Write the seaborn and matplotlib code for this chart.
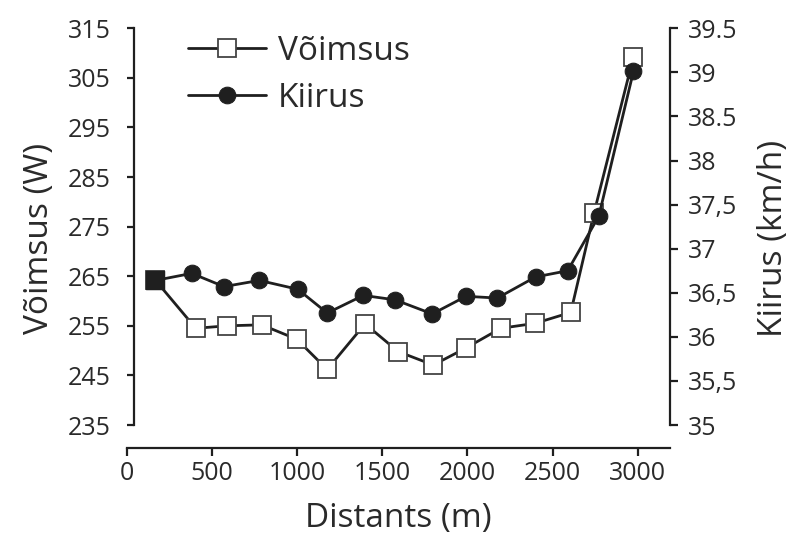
import numpy as np
import pandas as pd
import matplotlib
matplotlib.use("Agg")
import matplotlib.pyplot as plt
import seaborn as sns

# --- andmed (loetud jooniselt) ---
power_dist = [168, 405, 587, 792, 998, 1177, 1399, 1594, 1800, 1990, 2196, 2397, 2607, 2744, 2975]
power_w = [264.2, 254.5, 255.0, 255.2, 252.3, 246.2, 255.4, 249.8, 247.1, 250.5, 254.5, 255.5, 257.7, 277.8, 309.2]

speed_dist = [168, 381, 571, 778, 1004, 1177, 1389, 1575, 1794, 1992, 2176, 2401, 2589, 2772, 2975]
speed_kmh = [36.64, 36.72, 36.57, 36.64, 36.54, 36.27, 36.47, 36.42, 36.26, 36.46, 36.44, 36.68, 36.75, 37.37, 39.01]

x_ticks = [0, 500, 1000, 1500, 2000, 2500, 3000]
left_ticks = [235, 245, 255, 265, 275, 285, 295, 305, 315]
right_ticks = [35, 35.5, 36, 36.5, 37, 37.5, 38, 38.5, 39, 39.5]
right_tick_labels = ["35", "35,5", "36", "36,5", "37", "37,5", "38", "38.5", "39", "39.5"]

df_power = pd.DataFrame({"dist": power_dist, "power": power_w})
df_speed = pd.DataFrame({"dist": speed_dist, "speed": speed_kmh})

sns.set_style("ticks")
plt.rcParams["font.family"] = ["Open Sans", "DejaVu Sans"]

INK = "#1f1f1f"
TXT = "#2a2a2a"
fig = plt.figure(figsize=(8.03, 5.42), dpi=100)
ax = fig.add_axes([0.1579, 0.1734, 0.6765, 0.7744])
ax2 = ax.twinx()

# Võimsus
sns.lineplot(data=df_power, x="dist", y="power", ax=ax, color=INK, linewidth=2.0,
             marker="s", markersize=13, markerfacecolor="white",
             markeredgecolor="#444444", markeredgewidth=1.3, label="Võimsus",
             clip_on=False)
# esimene punkt on täidetud
sns.scatterplot(data=df_power.iloc[:1], x="dist", y="power", ax=ax, marker="s",
                s=175, color=INK, edgecolor=INK, zorder=5, clip_on=False)

# Kiirus
sns.lineplot(data=df_speed, x="dist", y="speed", ax=ax2, color=INK, linewidth=2.0,
             marker="o", markersize=12, markerfacecolor=INK,
             markeredgecolor=INK, label="Kiirus", clip_on=False)

ax.set_xlim(0, 3190)
ax.set_ylim(230.36, 315)
ax2.set_ylim(34.739, 39.5)

ax.set_xticks(x_ticks)
ax.set_yticks(left_ticks)
ax2.set_yticks(right_ticks)
ax2.set_yticklabels(right_tick_labels)

for s in ["top", "right"]:
    ax.spines[s].set_visible(False)
for s in ["top", "left", "bottom"]:
    ax2.spines[s].set_visible(False)
ax.spines["left"].set_position(("axes", 0.0133))
ax.spines["left"].set_bounds(235, 315)
ax2.spines["right"].set_bounds(35, 39.5)
for sp in [ax.spines["left"], ax.spines["bottom"], ax2.spines["right"]]:
    sp.set_linewidth(1.6)
    sp.set_color(INK)

ax.tick_params(axis="y", direction="out", length=5, width=1.6, color=INK,
               labelsize=18, pad=12, labelcolor=TXT)
ax.tick_params(axis="x", direction="out", length=6, width=1.6, color=INK,
               labelsize=18, pad=3, labelcolor=TXT)
ax2.tick_params(axis="y", direction="out", length=6, width=1.6, color=INK,
                labelsize=18, pad=7, labelcolor=TXT)

ax.set_xlabel("Distants (m)", fontsize=24, color=TXT, labelpad=12)
ax.set_ylabel("Võimsus (W)", fontsize=24, color=TXT, labelpad=8)
ax2.set_ylabel("Kiirus (km/h)", fontsize=24, color=TXT, labelpad=14)

# ühine legend
ax.get_legend().remove()
ax2.get_legend().remove()
h1 = ax.get_lines()[0]
h2 = ax2.get_lines()[0]
ax2.legend([h1, h2], ["Võimsus", "Kiirus"], loc="upper left",
           bbox_to_anchor=(0.1127, 0.985), frameon=False, fontsize=24,
           handlelength=2.35, handletextpad=0.35, labelspacing=0.42,
           borderpad=0, borderaxespad=0, labelcolor=TXT)

fig.savefig("out.png", dpi=100)
